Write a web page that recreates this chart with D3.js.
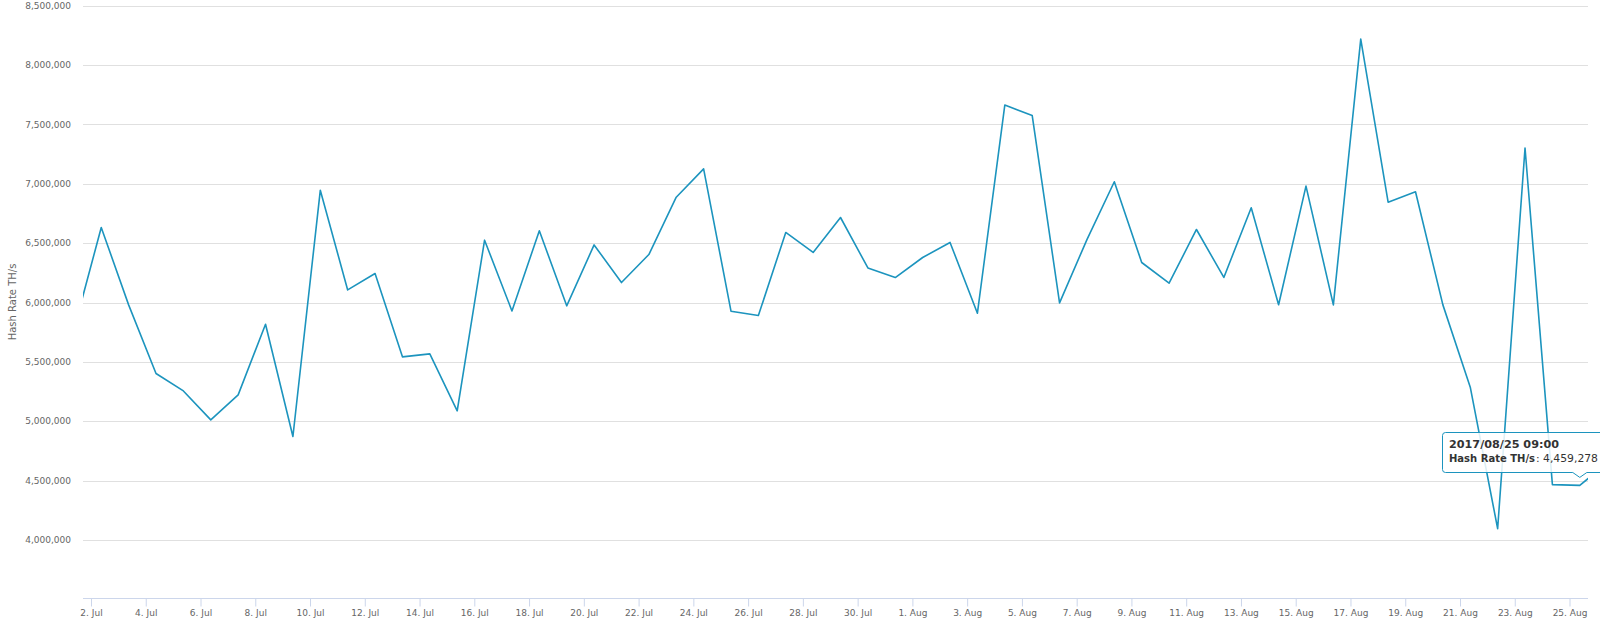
<!DOCTYPE html>
<html>
<head>
<meta charset="utf-8">
<script src="https://cdn.jsdelivr.net/npm/d3@7"></script>
<style>
  html, body { margin: 0; padding: 0; background: #fff; }
  svg { display: block; }
  text { font-family: "DejaVu Sans", Verdana, sans-serif; }
</style>
</head>
<body>
<svg id="chart" width="1600" height="623"></svg>
<script>
// ---- Data (daily readings at 09:00 UTC) ----
const dates = [
  "2017-07-01","2017-07-02","2017-07-03","2017-07-04","2017-07-05","2017-07-06","2017-07-07",
  "2017-07-08","2017-07-09","2017-07-10","2017-07-11","2017-07-12","2017-07-13","2017-07-14",
  "2017-07-15","2017-07-16","2017-07-17","2017-07-18","2017-07-19","2017-07-20","2017-07-21",
  "2017-07-22","2017-07-23","2017-07-24","2017-07-25","2017-07-26","2017-07-27","2017-07-28",
  "2017-07-29","2017-07-30","2017-07-31","2017-08-01","2017-08-02","2017-08-03","2017-08-04",
  "2017-08-05","2017-08-06","2017-08-07","2017-08-08","2017-08-09","2017-08-10","2017-08-11",
  "2017-08-12","2017-08-13","2017-08-14","2017-08-15","2017-08-16","2017-08-17","2017-08-18",
  "2017-08-19","2017-08-20","2017-08-21","2017-08-22","2017-08-23","2017-08-24","2017-08-25",
  "2017-08-26"
];
const hashRate = [
  5770000, 6632000, 5980000, 5402000, 5255000, 5011000, 5222000,
  5817000, 4871000, 6945000, 6106000, 6244000, 5542000, 5567000,
  5087000, 6525000, 5929000, 6604000, 5972000, 6485000, 6168000,
  6404000, 6887000, 7126000, 5927000, 5890000, 6590000, 6422000,
  6716000, 6291000, 6210000, 6379000, 6506000, 5910000, 7663000,
  7576000, 5997000, 6530000, 7017000, 6337000, 6163000, 6615000,
  6211000, 6798000, 5981000, 6980000, 5980000, 8219000, 6845000,
  6933000, 5980000, 5287000, 4095000, 7301000, 4466000, 4459278,
  4650000
];
const yTicks = [4000000, 4500000, 5000000, 5500000, 6000000, 6500000, 7000000, 7500000, 8000000, 8500000];
const xTickDates = [
  "2017-07-02","2017-07-04","2017-07-06","2017-07-08","2017-07-10","2017-07-12","2017-07-14",
  "2017-07-16","2017-07-18","2017-07-20","2017-07-22","2017-07-24","2017-07-26","2017-07-28",
  "2017-07-30","2017-08-01","2017-08-03","2017-08-05","2017-08-07","2017-08-09","2017-08-11",
  "2017-08-13","2017-08-15","2017-08-17","2017-08-19","2017-08-21","2017-08-23","2017-08-25"
];
const xTickLabels = [
  "2. Jul","4. Jul","6. Jul","8. Jul","10. Jul","12. Jul","14. Jul",
  "16. Jul","18. Jul","20. Jul","22. Jul","24. Jul","26. Jul","28. Jul",
  "30. Jul","1. Aug","3. Aug","5. Aug","7. Aug","9. Aug","11. Aug",
  "13. Aug","15. Aug","17. Aug","19. Aug","21. Aug","23. Aug","25. Aug"
];
const seriesName = "Hash Rate TH/s";
const tooltipIndex = 55;
const tooltipHeader = "2017/08/25 09:00";

(function () {
// ---- Layout ----
const svg = d3.select("#chart");
const pLeft = 83, pRight = 1588, pTop = 5.7, pBottom = 599.3;
const color = "#1c94be";

const parse = s => new Date(s + "T09:00:00Z");
const points = dates.map((d, i) => ({ t: parse(d), v: hashRate[i] }));

const x = d3.scaleUtc()
  .domain([new Date(Date.UTC(2017, 6, 1, 17, 0)), new Date(Date.UTC(2017, 7, 25, 16, 12))])
  .range([pLeft, pRight]);
const y = d3.scaleLinear().domain([3500000, 8500000]).range([pBottom, pTop]);

// gridlines
svg.append("g").selectAll("line").data(yTicks).join("line")
  .attr("x1", pLeft).attr("x2", pRight)
  .attr("y1", d => Math.round(y(d)) + 0.5).attr("y2", d => Math.round(y(d)) + 0.5)
  .attr("stroke", "#e0e0e0").attr("stroke-width", 1);

// y axis labels
const fmt = d3.format(",");
svg.append("g").selectAll("text").data(yTicks).join("text")
  .attr("x", 71).attr("y", d => y(d))
  .attr("dy", "0.35em")
  .attr("text-anchor", "end")
  .attr("font-size", 9)
  .attr("fill", "#666")
  .text(d => fmt(d));

// y axis title
svg.append("text")
  .attr("transform", `translate(16,302) rotate(-90)`)
  .attr("text-anchor", "middle")
  .attr("font-size", 10)
  .attr("fill", "#666")
  .text(seriesName);

// x axis
const xAxis = d3.axisBottom(x)
  .tickValues(xTickDates.map(d => new Date(d + "T00:00:00Z")))
  .tickFormat((d, i) => xTickLabels[i])
  .tickSize(8)
  .tickPadding(3);
const gx = svg.append("g").attr("transform", `translate(0,${Math.round(pBottom) - 0.5})`).call(xAxis);
gx.select(".domain").attr("stroke", "#ccd6eb").attr("d", `M${pLeft},0H${pRight}`);
gx.selectAll(".tick line").attr("stroke", "#ccd6eb");
gx.selectAll(".tick text").attr("fill", "#666").attr("font-size", 9)
  .attr("font-family", "DejaVu Sans, Verdana, sans-serif");

// clip
svg.append("clipPath").attr("id", "plotclip")
  .append("rect").attr("x", pLeft).attr("y", 0).attr("width", pRight - pLeft).attr("height", pBottom);

// line
const line = d3.line().x(d => x(d.t)).y(d => y(d.v));
svg.append("path")
  .datum(points)
  .attr("clip-path", "url(#plotclip)")
  .attr("fill", "none")
  .attr("stroke", color)
  .attr("stroke-width", 1.6)
  .attr("stroke-linejoin", "round")
  .attr("d", line);

// tooltip
const tp = points[tooltipIndex];
const px = x(tp.t), py = y(tp.v);
const bx = 1442.5, by = 432.5, bw = 200, bh = 40;
const ax = px, ay = py - 8;
const tipPath = `M${bx + 3},${by} H${bx + bw} V${by + bh} H${ax + 7} L${ax},${ay} L${ax - 7},${by + bh} H${bx + 3} Q${bx},${by + bh} ${bx},${by + bh - 3} V${by + 3} Q${bx},${by} ${bx + 3},${by} Z`;
svg.append("path")
  .attr("d", tipPath)
  .attr("fill", "rgba(255,255,255,0.85)")
  .attr("stroke", color)
  .attr("stroke-width", 1);
svg.append("text")
  .attr("x", 1449).attr("y", 448)
  .attr("font-size", 10.5).attr("font-weight", "bold").attr("fill", "#333")
  .attr("textLength", 110).attr("lengthAdjust", "spacingAndGlyphs")
  .text(tooltipHeader);
svg.append("text")
  .attr("x", 1449).attr("y", 462)
  .attr("font-size", 10.5).attr("font-weight", "bold").attr("fill", "#333")
  .attr("textLength", 86).attr("lengthAdjust", "spacingAndGlyphs")
  .text(seriesName);
svg.append("text")
  .attr("x", 1536).attr("y", 462)
  .attr("font-size", 10.5).attr("fill", "#333")
  .attr("textLength", 62).attr("lengthAdjust", "spacingAndGlyphs")
  .text(": " + fmt(tp.v));
})();
</script>
</body>
</html>
